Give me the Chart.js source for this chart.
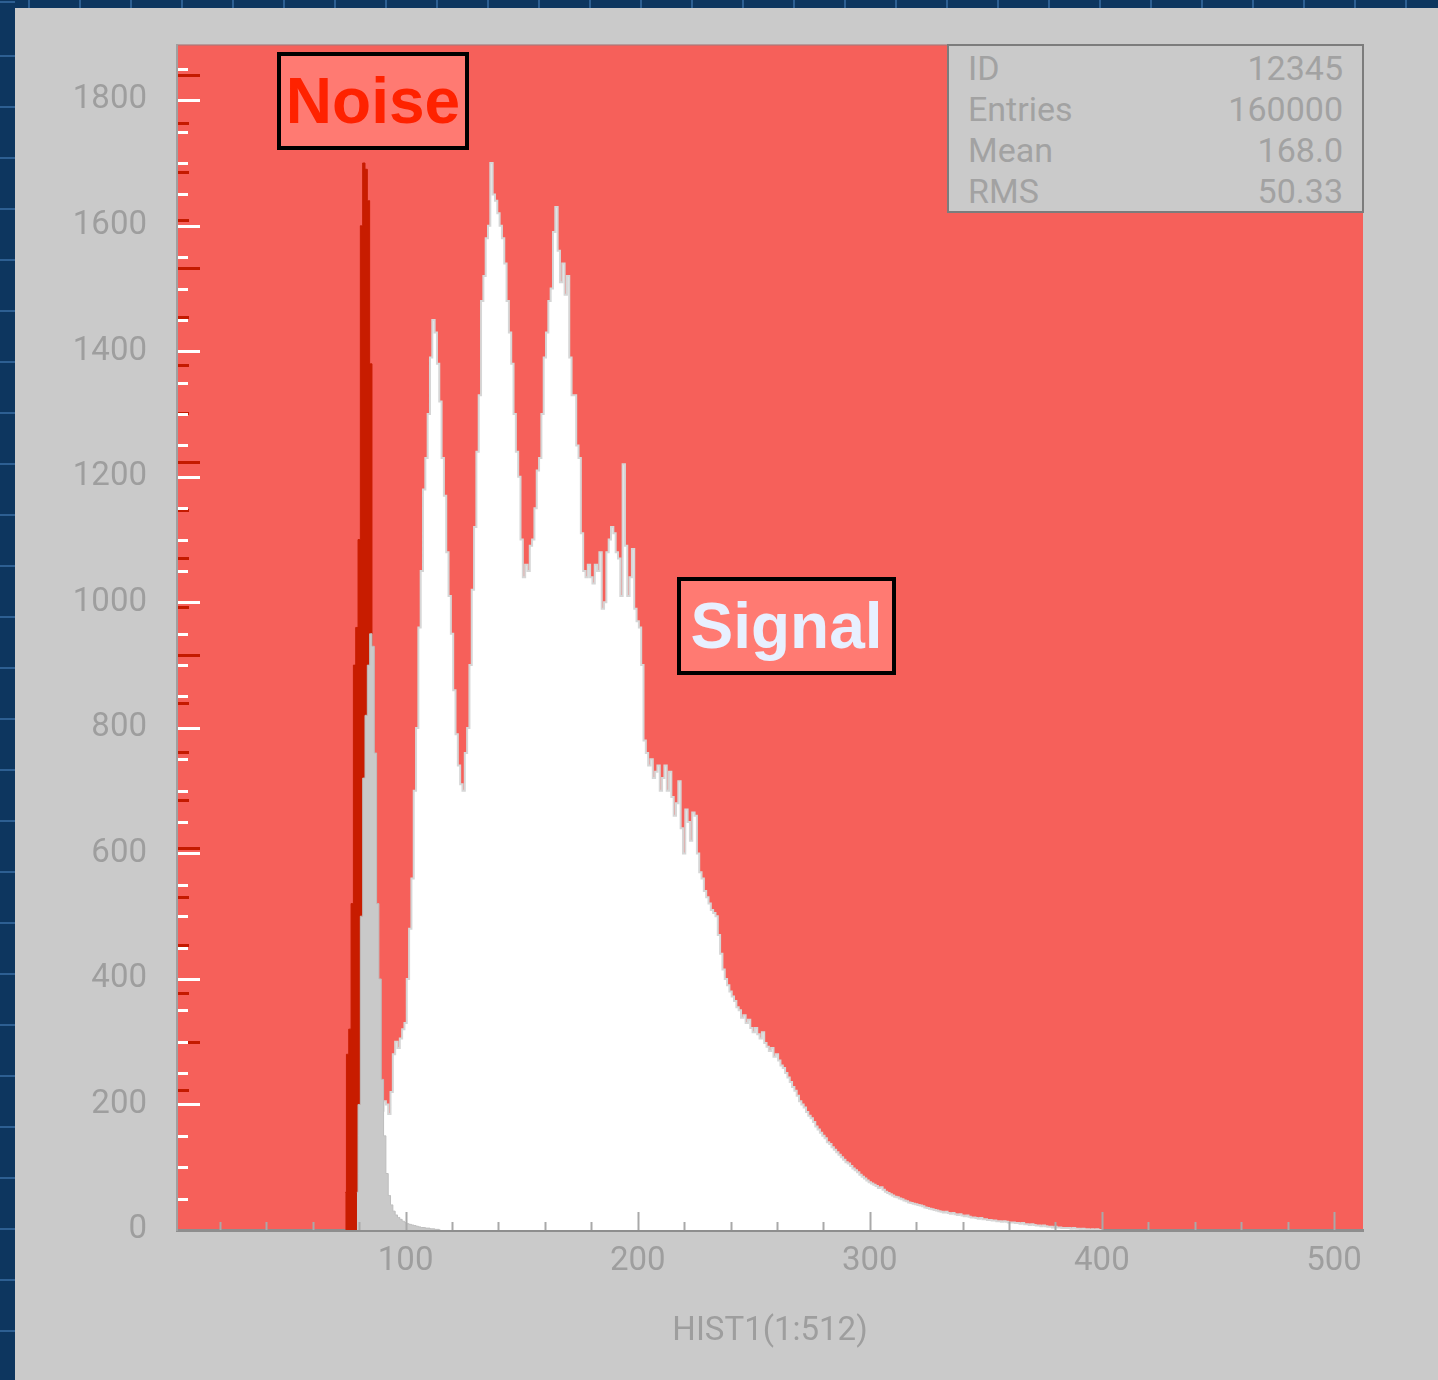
<!DOCTYPE html>
<html>
<head>
<meta charset="utf-8">
<script src="https://cdn.jsdelivr.net/npm/chart.js@4.4.1/dist/chart.umd.min.js"></script>
<style>
html,body{margin:0;padding:0;}
body{width:1438px;height:1380px;position:relative;overflow:hidden;background:#0d365f;}
#topstrip{position:absolute;left:0;top:0;width:1438px;height:8px;
  background:repeating-linear-gradient(90deg,#0d365f 0px,#0d365f 49px,#2d5f92 49px,#2d5f92 51px);
  background-position:-21px 0;}
#leftstrip{position:absolute;left:0;top:0;width:15px;height:1380px;
  background:repeating-linear-gradient(180deg,#0d365f 0px,#0d365f 49px,#2d5f92 49px,#2d5f92 51px);
  background-position:0 6px;}
#panel{position:absolute;left:15px;top:8px;right:0;bottom:0;background:#cacaca;}
#c{position:absolute;left:0;top:0;}
#stats{position:absolute;left:947px;top:44px;width:417px;height:169px;box-sizing:border-box;
  border:2px solid #7c7c7c;background:#cacaca;padding:2px 19px 0 19px;
  font-family:Roboto,"DejaVu Sans",sans-serif;font-size:34px;color:#a2a2a2;}
#stats .row{display:flex;justify-content:space-between;height:41px;line-height:41px;}
.tag{position:absolute;box-sizing:border-box;border:4px solid #000;background:#ff7a72;
  font-family:"Liberation Sans",Arial,sans-serif;font-weight:bold;font-size:64px;
  display:flex;align-items:center;justify-content:center;}
#noise{left:277px;top:52px;width:192px;height:98px;color:#ff2200;}
#signal{left:677px;top:577px;width:219px;height:98px;color:#e8f0ff;}
</style>
</head>
<body>
<div id="topstrip"></div>
<div id="leftstrip"></div>
<div id="panel"></div>
<canvas id="c" width="1438" height="1380"></canvas>
<div id="stats">
  <div class="row"><span>ID</span><span>12345</span></div>
  <div class="row"><span>Entries</span><span>160000</span></div>
  <div class="row"><span>Mean</span><span>168.0</span></div>
  <div class="row"><span>RMS</span><span>50.33</span></div>
</div>
<div id="noise" class="tag">Noise</div>
<div id="signal" class="tag">Signal</div>
<script>
// ---------------- data ----------------
const xTitle = 'HIST1(1:512)';
const xRange = [1.5, 512.5];
const yRange = [0, 1888];

// noise peak (dark red), counts per channel starting at channel 74
const noiseStart = 74;
const noiseCounts = [60, 280, 320, 520, 900, 960, 1100, 1600, 1700, 1690, 1640, 1380, 700, 250, 60, 0];

// pedestal peak (grey), counts per channel starting at channel 79
const pedStart = 79;
const pedCounts = [60, 200, 500, 720, 820, 900, 950, 930, 760, 520, 400, 240, 150, 90, 55, 40,
  30, 24, 20, 17, 14, 12, 10, 9, 8, 7, 6, 5, 4, 4, 3, 3, 2, 2, 1, 1, 0];

// signal (white), counts per channel starting at channel 88
const signalStart = 88;
const signalCounts = [
  60, 140, 190, 205, 200, 185, 220, 280, 300, 290, 305, 320, 330,            // 88-100
  400, 480, 560, 700, 800, 960, 1050, 1180, 1230, 1300,                      // 101-110
  1390, 1450, 1430, 1380, 1320, 1230, 1170, 1080, 1010, 950,                 // 111-120
  860, 790, 740, 710, 700, 760, 800, 900, 1020, 1120,                        // 121-130
  1240, 1330, 1480, 1520, 1580, 1600, 1700, 1650, 1640, 1620,               // 131-140
  1600, 1580, 1540, 1480, 1430, 1380, 1300, 1240, 1200, 1100,               // 141-150
  1040, 1060, 1050, 1090, 1100, 1150, 1210, 1230, 1300, 1390,               // 151-160
  1430, 1480, 1500, 1590, 1630, 1560, 1510, 1540, 1490, 1520,               // 161-170
  1390, 1330, 1330, 1250, 1230, 1110, 1050, 1040, 1060, 1040,               // 171-180
  1030, 1060, 1050, 1080, 990, 1000, 1080, 1100, 1120, 1110,                 // 181-190
  1080, 1070, 1010, 1220, 1090, 1010, 1040, 1085, 990, 970,                  // 191-200
  960, 900, 780, 760, 740, 750, 720, 730, 740, 700,                          // 201-210
  720, 740, 700, 730, 690, 660, 680, 715, 640, 600,                          // 211-220
  670, 650, 620, 665, 660, 600, 570, 560, 540, 530,                          // 221-230
  520, 510, 505, 500, 470, 440, 415, 400, 390, 380,                          // 231-240
  372, 365, 355, 350, 338, 342, 330, 335, 322, 315,                          // 241-250
  322, 312, 305, 315, 298, 292, 285, 290, 276, 280,                          // 251-260
  270, 262, 258, 250, 243, 236, 228, 222, 214, 205,                          // 261-270
  200, 195, 188, 182, 178, 172, 165, 160, 155, 150,                          // 271-280
  146, 140, 137, 132, 128, 124, 120, 116, 112, 108,                          // 281-290
  106, 102, 98, 95, 92, 88, 85, 82, 79, 76,                                  // 291-300
  74, 72, 70, 67, 68, 64, 61, 59, 57, 55,                                    // 301-310
  53, 52, 50, 49, 47, 46, 44, 43, 42, 41,                                    // 311-320
  40, 39, 38, 36, 35, 34, 33, 32, 31, 30,                                    // 321-330
  29, 28, 29, 27, 26, 27, 25, 24, 25, 23,                                    // 331-340
  22, 23, 21, 20, 20, 19, 18, 19, 17, 17,                                    // 341-350
  16, 16, 15, 15, 14, 14, 13, 14, 13, 12,                                    // 351-360
  12, 12, 11, 11, 10, 11, 9, 9, 8, 9,                                        // 361-370
  8, 7, 7, 6, 7, 6, 5, 5, 4, 5,                                              // 371-380
  4, 4, 3, 3, 3, 3, 2, 3, 2, 2,                                              // 381-390
  1, 2, 1, 1, 0, 1, 0, 1, 0, 0                                               // 391-400
];

// axis ticks
const xLabelTicks = [100, 200, 300, 400, 500];
const xMinorTicks = [20, 40, 60, 80, 100, 120, 140, 160, 180, 200, 220, 240, 260, 280, 300,
  320, 340, 360, 380, 400, 420, 440, 460, 480, 500];
const yLabelTicks = [0, 200, 400, 600, 800, 1000, 1200, 1400, 1600, 1800];
const yMinorTicks = [50, 100, 150, 250, 300, 350, 450, 500, 550, 650, 700, 750, 850, 900, 950,
  1050, 1100, 1150, 1250, 1300, 1350, 1450, 1500, 1550, 1650, 1700, 1750, 1850];
// ticks of the overlaid noise-histogram axis (dark red marks)
const noiseAxisMajor = [1840, 1532, 1224, 916, 608, 300];
const noiseAxisMinor = [1763, 1686, 1609, 1455, 1378, 1301, 1147, 1070, 993, 839, 762, 685, 531, 454, 377, 223];

// ---------------- chart ----------------
const toPoints = (start, arr) => arr.map((v, i) => ({x: start + i, y: v}));
const LABEL_COLOR = '#9e9e9e';
const LABEL_FONT = {family: 'Roboto, "DejaVu Sans", sans-serif', size: 33};

const plotFrame = {
  id: 'plotFrame',
  beforeDraw(chart) {
    const {ctx, chartArea: a} = chart;
    ctx.save();
    ctx.fillStyle = '#f6605a';
    ctx.fillRect(a.left, a.top, a.right - a.left, a.bottom - a.top);
    ctx.strokeStyle = 'rgba(170,120,120,0.6)';
    ctx.lineWidth = 2;
    ctx.beginPath(); ctx.moveTo(a.left, a.top); ctx.lineTo(a.right, a.top); ctx.stroke();
    ctx.restore();
  },
  afterDatasetsDraw(chart) {
    const {ctx, chartArea: a, scales: {x, y}} = chart;
    ctx.save();
    const hLine = (yv, len, color, w) => {
      const py = Math.round(y.getPixelForValue(yv)) + 0.5;
      ctx.strokeStyle = color; ctx.lineWidth = w;
      ctx.beginPath(); ctx.moveTo(a.left + 1, py); ctx.lineTo(a.left + 1 + len, py); ctx.stroke();
    };
    noiseAxisMajor.forEach(v => hLine(v, 22, '#c41a00', 3));
    noiseAxisMinor.forEach(v => hLine(v, 11, '#c41a00', 3));
    yMinorTicks.forEach(v => hLine(v, 10, '#ffffff', 3));
    yLabelTicks.forEach(v => { if (v > 0) hLine(v, 22, '#ffffff', 3); });
    xMinorTicks.forEach(v => {
      const px = Math.round(x.getPixelForValue(v)) + 0.5;
      const len = xLabelTicks.includes(v) ? 18 : 8;
      ctx.strokeStyle = '#a9a9a9'; ctx.lineWidth = 2;
      ctx.beginPath(); ctx.moveTo(px, a.bottom); ctx.lineTo(px, a.bottom - len); ctx.stroke();
    });
    ctx.restore();
  }
};

new Chart(document.getElementById('c'), {
  type: 'line',
  data: {
    datasets: [
      {label: 'pedestal', data: toPoints(pedStart, pedCounts), order: 0,
       backgroundColor: '#c9c9c9', borderColor: '#bdbdbd', borderWidth: 1, fill: 'origin'},
      {label: 'signal', data: toPoints(signalStart, signalCounts), order: 1,
       backgroundColor: '#ffffff', borderColor: '#d6d6d6', borderWidth: 2, fill: 'origin'},
      {label: 'noise', data: toPoints(noiseStart, noiseCounts), order: 2,
       backgroundColor: '#c81c00', borderColor: '#c81c00', borderWidth: 1, fill: 'origin'}
    ]
  },
  options: {
    responsive: false,
    animation: false,
    elements: {line: {stepped: 'middle', tension: 0}, point: {radius: 0, hoverRadius: 0}},
    layout: {padding: {top: 45, right: 75, left: 0, bottom: 0}},
    plugins: {legend: {display: false}, tooltip: {enabled: false}},
    scales: {
      x: {
        type: 'linear', min: xRange[0], max: xRange[1], z: 1,
        afterFit(s) { s.height = 150; s.paddingLeft = 0; s.paddingRight = 0; },
        afterBuildTicks(s) { s.ticks = xLabelTicks.map(v => ({value: v})); },
        grid: {display: false, drawTicks: false},
        border: {display: true, color: '#8e8e8e', width: 3},
        ticks: {color: LABEL_COLOR, font: LABEL_FONT, padding: 12, maxRotation: 0, autoSkip: false,
                callback: v => String(v)},
        title: {display: true, text: xTitle, color: LABEL_COLOR, font: LABEL_FONT, padding: {top: 0, bottom: 28}}
      },
      y: {
        type: 'linear', min: yRange[0], max: yRange[1], z: 1,
        afterFit(s) { s.width = 177; s.paddingTop = 0; s.paddingBottom = 0; },
        afterBuildTicks(s) { s.ticks = yLabelTicks.map(v => ({value: v})); },
        grid: {display: false, drawTicks: false},
        border: {display: true, color: '#a0a0a0', width: 2},
        ticks: {color: LABEL_COLOR, font: LABEL_FONT, padding: 30, callback: v => String(v)}
      }
    }
  },
  plugins: [plotFrame]
});
</script>
</body>
</html>
